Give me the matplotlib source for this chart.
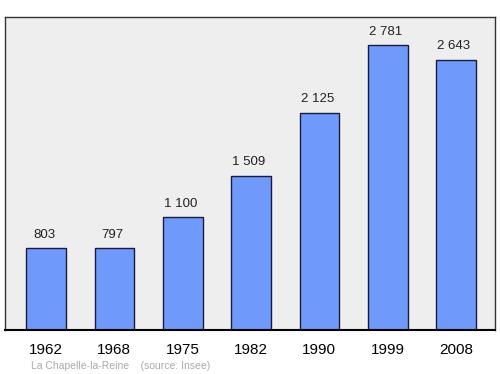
import matplotlib
matplotlib.use("Agg")
import matplotlib.pyplot as plt

years = ["1962", "1968", "1975", "1982", "1990", "1999", "2008"]
population = [803, 797, 1100, 1509, 2125, 2781, 2643]
value_labels = ["803", "797", "1 100", "1 509", "2 125", "2 781", "2 643"]

plt.rcParams['font.family'] = ['Liberation Sans', 'DejaVu Sans']

fig = plt.figure(figsize=(5, 3.74), dpi=100)
ax = fig.add_axes([0.01, 0.1176, 0.98, 0.837])
ax.set_facecolor("#eeeeee")

x = list(range(len(years)))
ax.bar(x, population, width=0.58, color="#7099fc", edgecolor="#1a1a40", linewidth=1)

for xi, v, lab in zip(x, population, value_labels):
    ax.text(xi - 0.03, v + 70, lab, ha="center", va="bottom", fontsize=9.5, color="#222222")

ax.set_xlim(-0.6, 6.57)
ax.set_ylim(0, max(population) * 1.1)
ax.set_yticks([])
ax.set_xticks(x)
ax.set_xticklabels(years, fontsize=11)
ax.tick_params(axis="x", length=0, pad=9)

for s in ["left", "top", "right"]:
    ax.spines[s].set_color("#333333")
    ax.spines[s].set_linewidth(1)
ax.spines["bottom"].set_linewidth(1.5)
ax.spines["bottom"].set_color("#000000")

fig.text(0.062, 0.014, "La Chapelle-la-Reine    (source: Insee)", fontsize=7.5, color="#aaaaaa")

fig.savefig("out.png", dpi=100)
